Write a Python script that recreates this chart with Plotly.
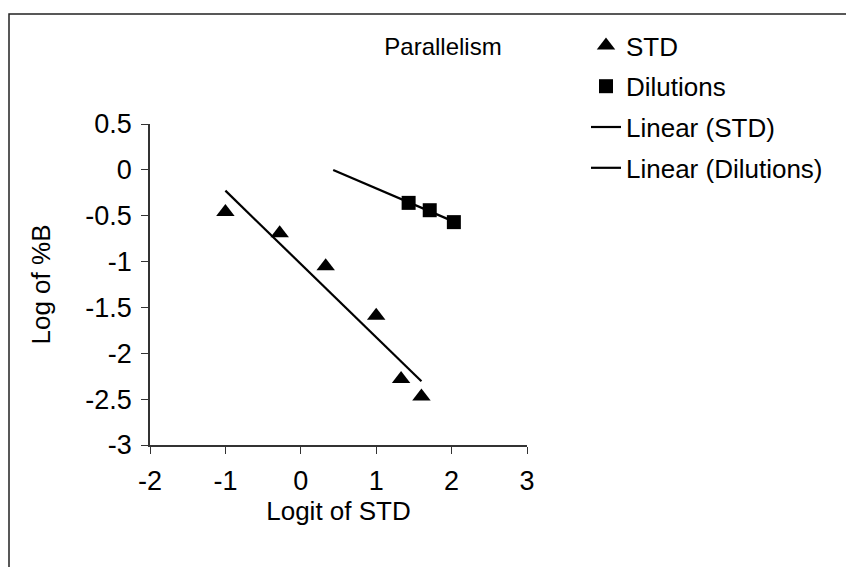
import numpy as np
import plotly.graph_objects as go

# Data
std_x = [-1.0, -0.28, 0.33, 1.0, 1.33, 1.6]
std_y = [-0.46, -0.69, -1.05, -1.59, -2.28, -2.47]
dil_x = [1.43, 1.71, 2.03]
dil_y = [-0.36, -0.44, -0.57]

x_ticks = [-2, -1, 0, 1, 2, 3]
x_labels = ["-2", "-1", "0", "1", "2", "3"]
y_ticks = [0.5, 0, -0.5, -1, -1.5, -2, -2.5, -3]
y_labels = ["0.5", "0", "-0.5", "-1", "-1.5", "-2", "-2.5", "-3"]

dil_backward = 1.0  # Excel trendline backward forecast

W, H = 846, 567
L, R, T, B = 150, 319, 124, 122
FONT = "Liberation Sans, Arial, sans-serif"

def trend(xs, ys, back=0.0):
    m, c = np.polyfit(xs, ys, 1)
    xx = np.array([min(xs) - back, max(xs)])
    return xx, m * xx + c

fig = go.Figure()
fig.add_trace(go.Scatter(x=std_x, y=std_y, mode="markers", name="STD",
                         marker=dict(symbol="triangle-up", size=16, color="black"),
                         legendgroup="a"))
fig.add_trace(go.Scatter(x=dil_x, y=dil_y, mode="markers", name="Dilutions",
                         marker=dict(symbol="square", size=14, color="black"),
                         legendgroup="b"))
tx, ty = trend(std_x, std_y)
fig.add_trace(go.Scatter(x=tx, y=ty, mode="lines", name="Linear (STD)",
                         line=dict(color="black", width=2.2), legendgroup="c"))
tx, ty = trend(dil_x, dil_y, dil_backward)
fig.add_trace(go.Scatter(x=tx, y=ty, mode="lines", name="Linear (Dilutions)",
                         line=dict(color="black", width=2.2), legendgroup="d"))

pw, ph = W - L - R, H - T - B
# outer chart frame (top and left edges visible)
fig.add_shape(type="rect", xref="paper", yref="paper",
              x0=(9 - L) / pw, x1=(W + 20 - L) / pw,
              y0=-(H + 20 - T - ph) / ph, y1=(H - 14 - B) / ph,
              line=dict(color="#222", width=1.5), layer="below")

fig.update_layout(
    width=W, height=H,
    margin=dict(l=L, r=R, t=T, b=B),
    paper_bgcolor="white", plot_bgcolor="white",
    font=dict(family=FONT, size=26, color="black"),
    title=dict(text="Parallelism", x=443 / W, xanchor="center", xref="container",
               y=1 - 47 / H, yanchor="middle", yref="container",
               font=dict(family=FONT, size=24, color="black")),
    legend=dict(x=(586 - L) / pw, y=(H - 22 - B) / ph, xanchor="left", yanchor="top",
                font=dict(family=FONT, size=26, color="black"),
                tracegroupgap=4, bgcolor="rgba(0,0,0,0)"),
    showlegend=True,
)
fig.update_xaxes(range=[-2, 3], tickvals=x_ticks, ticktext=x_labels,
                 showgrid=False, zeroline=False, showline=True, linecolor="#333",
                 linewidth=1.5, ticks="outside", ticklen=7, tickcolor="#333",
                 ticklabelstandoff=4,
                 title=dict(text="Logit of STD", standoff=4, font=dict(size=26)),
                 tickfont=dict(size=27))
fig.update_yaxes(range=[-3, 0.5], tickvals=y_ticks, ticktext=y_labels,
                 showgrid=False, zeroline=False, showline=True, linecolor="#333",
                 linewidth=1.5, ticks="outside", ticklen=7, tickcolor="#333",
                 ticklabelstandoff=4,
                 title=dict(text="Log of %B", standoff=27, font=dict(size=26)),
                 tickfont=dict(size=27))

fig.write_html("out.html")
